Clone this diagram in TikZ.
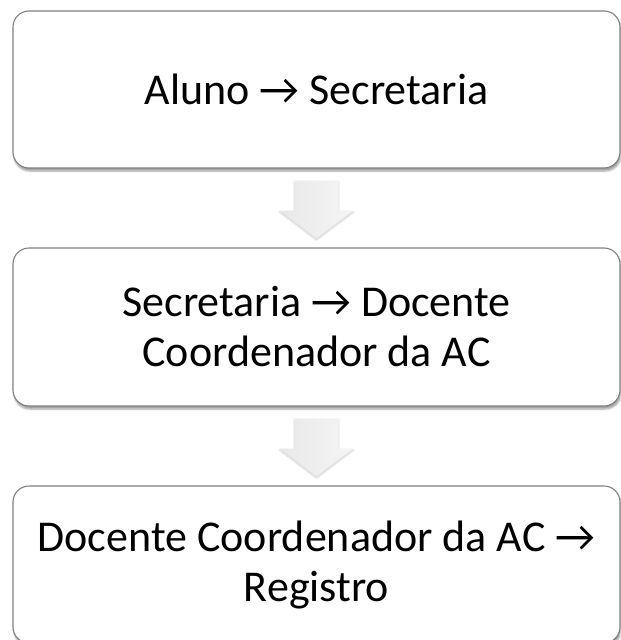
\documentclass[tikz,border=0pt]{standalone}
\usepackage{fontspec}
\setmainfont{Carlito}
\usetikzlibrary{calc,shadows.blur}
\tikzset{
  procbox/.style={draw=black!50, line width=1.1pt, fill=white, rounded corners=16pt,
    minimum width=607pt, minimum height=157pt, align=center, inner sep=0pt,
    font=\fontsize{44}{50}\selectfont,
    blur shadow={shadow xshift=1pt, shadow yshift=-3pt, shadow blur steps=6, shadow blur extra rounding=2pt, shadow opacity=40}},
  flowarrow/.style={left color=black!9, right color=black!4, draw=none,
    blur shadow={shadow xshift=0pt, shadow yshift=-1.5pt, shadow blur steps=4, shadow opacity=20}}
}
\begin{document}
\begin{tikzpicture}[x=1pt,y=-1pt]
\useasboundingbox (0,0) rectangle (621,640);
\node[procbox] (box1) at (316.5,89.5) {Aluno → Secretaria};
\node[procbox, minimum height=158pt] (box2) at (316.5,327) {Secretaria → Docente\\Coordenador da AC};
\node[procbox] (box3) at (316.5,564.5) {Docente Coordenador da AC →\\Registro};
\foreach \a/\b in {box1/box2, box2/box3}{
  \path[flowarrow] ($(\a.south)+(-22,12)$) -- ++(44,0) -- ++(0,30) -- ++(15,0)
    -- ($(\b.north)+(0,-9)$) -- ($(\a.south)+(-37,42)$) -- ++(15,0) -- cycle;
}
\end{tikzpicture}
\end{document}
